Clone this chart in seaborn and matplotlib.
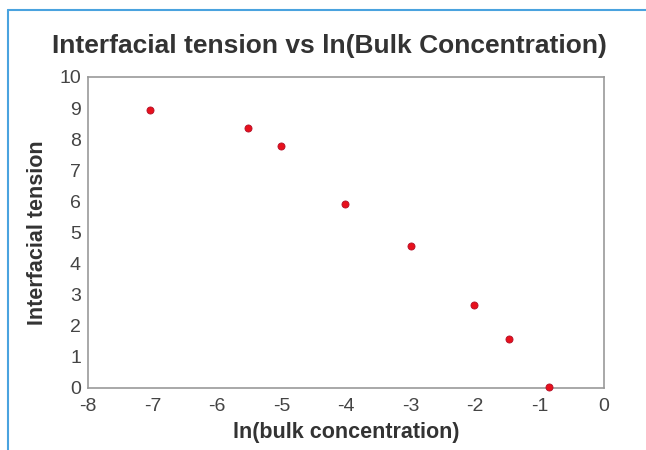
import matplotlib
matplotlib.use("Agg")
import matplotlib.pyplot as plt
import seaborn as sns
import pandas as pd
from matplotlib.lines import Line2D
from matplotlib.ticker import AutoMinorLocator

# values
ln_conc = [-7.04, -5.52, -5.01, -4.02, -2.99, -2.02, -1.47, -0.85]
tension = [8.94, 8.36, 7.78, 5.92, 4.57, 2.67, 1.58, 0.03]
x_ticks = [-8, -7, -6, -5, -4, -3, -2, -1, 0]
y_ticks = [0, 1, 2, 3, 4, 5, 6, 7, 8, 9, 10]

df = pd.DataFrame({"ln_conc": ln_conc, "tension": tension})

sns.set_style("white")
plt.rcParams["font.family"] = ["Liberation Sans", "DejaVu Sans"]
plt.rcParams["axes.unicode_minus"] = False

fig = plt.figure(figsize=(6.46, 4.5), dpi=100)
ax = fig.add_axes([0.136, 0.138, 0.799, 0.691])

sns.scatterplot(data=df, x="ln_conc", y="tension", ax=ax, color="#e8101c",
                s=26, edgecolor="#b0102a", linewidth=0.6, zorder=3, clip_on=False)

ax.set_xlim(-8, 0)
ax.set_ylim(0, 10)
ax.set_xticks(x_ticks)
ax.set_yticks(y_ticks)
ax.xaxis.set_minor_locator(AutoMinorLocator(2))
ax.yaxis.set_minor_locator(AutoMinorLocator(5))
ax.tick_params(which="both", direction="in", color="#888888", labelsize=14,
               labelcolor="#444444")
ax.tick_params(which="major", length=5)
ax.tick_params(which="minor", length=2.5)
ax.tick_params(axis="x", which="major", pad=7)
ax.tick_params(axis="y", which="major", pad=5)
for sp in ax.spines.values():
    sp.set_color("#999999")
    sp.set_linewidth(1.2)

ax.set_xlabel("ln(bulk concentration)", fontsize=15.5, fontweight="bold",
              color="#333333", labelpad=5)
ax.set_ylabel("Interfacial tension", fontsize=15.5, fontweight="bold",
              color="#333333", labelpad=8)
fig.text(0.51, 0.897, "Interfacial tension vs ln(Bulk Concentration)", ha="center",
         va="center", fontsize=19, fontweight="bold", color="#333333")

# blue page frame
frame_col = "#4aa3df"
fig.add_artist(Line2D([8 / 646, 1], [1 - 10 / 450, 1 - 10 / 450], color=frame_col, lw=1.5))
fig.add_artist(Line2D([8 / 646, 8 / 646], [0, 1 - 10 / 450], color=frame_col, lw=1.5))

fig.savefig("out.png", dpi=100)
